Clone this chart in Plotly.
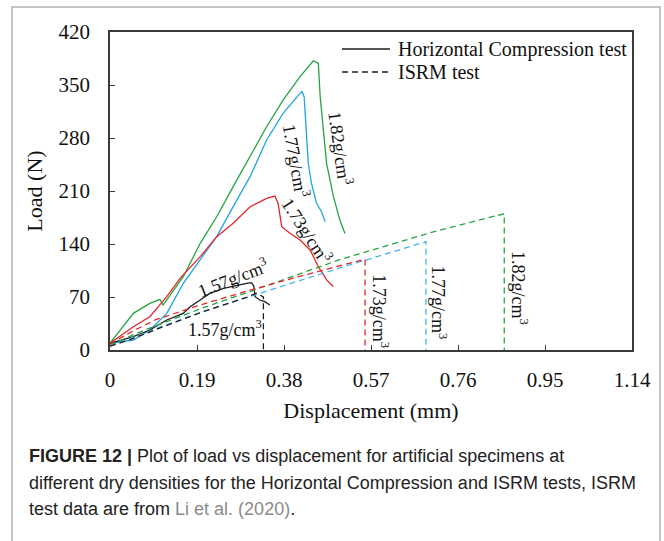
import plotly.graph_objects as go

# ---- Horizontal Compression test curves (displacement mm, load N) ----
hc182_x = [0, 0.051, 0.087, 0.109, 0.116, 0.160, 0.197, 0.233, 0.269, 0.306, 0.342, 0.378, 0.415, 0.444, 0.455, 0.459, 0.473, 0.488, 0.502, 0.513]
hc182_y = [8.8, 48.4, 61.6, 66.9, 59.4, 96.8, 140.9, 176, 215.7, 255, 294.9, 330, 361, 382, 378.6, 334.6, 246.6, 202.5, 171.7, 154]

hc177_x = [0, 0.051, 0.087, 0.124, 0.160, 0.197, 0.233, 0.269, 0.306, 0.342, 0.378, 0.415, 0.419, 0.424, 0.428, 0.433, 0.440, 0.451, 0.462, 0.470]
hc177_y = [8.8, 13.2, 26.4, 48.4, 88, 118.9, 149.7, 189.3, 228.9, 277.4, 312.6, 339, 341.2, 334.6, 290.6, 246.6, 220.2, 193.8, 182.7, 169.5]

hc173_x = [0, 0.051, 0.087, 0.124, 0.153, 0.197, 0.233, 0.269, 0.306, 0.342, 0.360, 0.367, 0.375, 0.393, 0.415, 0.437, 0.455, 0.473, 0.488]
hc173_y = [8.8, 30.8, 44, 70.4, 94.6, 123.3, 149.7, 167.3, 189.3, 200.3, 203.4, 193.8, 162.9, 154.1, 145.3, 132.1, 110, 92.5, 83.6]

hc157_x = [0, 0.051, 0.087, 0.124, 0.160, 0.175, 0.197, 0.218, 0.248, 0.277, 0.298, 0.309, 0.314, 0.317, 0.327, 0.338, 0.349]
hc157_y = [8.8, 17.6, 26.4, 39.6, 48.4, 57.2, 66, 74.8, 81.4, 85.8, 88, 88.9, 84.5, 70.4, 66, 63.8, 59.4]

# ---- ISRM test curves ----
isrm182_x = [0, 0.05, 0.1, 0.2, 0.3, 0.4, 0.5, 0.6, 0.7, 0.861, 0.861]
isrm182_y = [6, 20, 32, 55, 76, 98, 119, 137, 155, 180, 0]

isrm177_x = [0, 0.05, 0.1, 0.2, 0.3, 0.4, 0.5, 0.6, 0.690, 0.690]
isrm177_y = [5, 17, 28, 50, 70, 89, 108, 126, 143, 0]

isrm173_x = [0, 0.05, 0.1, 0.2, 0.3, 0.4, 0.557, 0.557]
isrm173_y = [8, 25, 40, 60, 78, 95, 120, 0]

isrm157_x = [0, 0.05, 0.1, 0.2, 0.3, 0.32, 0.335, 0.335]
isrm157_y = [5, 15, 27, 50, 70, 75, 70, 0]

x_ticks = [0, 0.19, 0.38, 0.57, 0.76, 0.95, 1.14]
x_tick_text = ["0", "0.19", "0.38", "0.57", "0.76", "0.95", "1.14"]
y_ticks = [0, 70, 140, 210, 280, 350, 420]

# density labels: (text, x, y, angle)
label_text = ["1.82g/cm<sup>3</sup>", "1.77g/cm<sup>3</sup>", "1.73g/cm<sup>3</sup>", "1.57g/cm<sup>3</sup>",
              "1.57g/cm<sup>3</sup>", "1.73g/cm<sup>3</sup>", "1.77g/cm<sup>3</sup>", "1.82g/cm<sup>3</sup>"]
label_x = [0.503, 0.406, 0.430, 0.269, 0.251, 0.590, 0.718, 0.893]
label_y = [266, 250, 158, 96, 29, 51, 63, 82]
label_angle = [82, 80, 57, -21, 0, 90, 90, 90]

legend_names = ["Horizontal Compression test", "ISRM test"]

GREEN = "#25a540"
BLUE = "#1ea5e3"
RED = "#e5262b"
BLACK = "#1e1e1e"
DASH = "6px,4px"
SERIF = "Liberation Serif"

# pixel -> paper helpers for the 664x541 canvas with the plot area at (110..632, 32..350)
L, R, T, B = 110, 632, 32, 350
def px(xp):
    return (xp - L) / (R - L)
def py(yp):
    return (B - yp) / (B - T)

fig = go.Figure()

for xs, ys, c in [(hc182_x, hc182_y, GREEN), (hc177_x, hc177_y, BLUE),
                  (hc173_x, hc173_y, RED), (hc157_x, hc157_y, BLACK)]:
    fig.add_trace(go.Scatter(x=xs, y=ys, mode="lines", showlegend=False,
                             line=dict(color=c, width=1.3)))

for xs, ys, c in [(isrm182_x, isrm182_y, GREEN), (isrm177_x, isrm177_y, "#45b4e6"),
                  (isrm173_x, isrm173_y, RED), (isrm157_x, isrm157_y, BLACK)]:
    fig.add_trace(go.Scatter(x=xs, y=ys, mode="lines", showlegend=False,
                             line=dict(color=c, width=1.3, dash=DASH)))

for t, x, y, a in zip(label_text, label_x, label_y, label_angle):
    fig.add_annotation(x=x, y=y, text=t, textangle=a, showarrow=False,
                       xanchor="center", yanchor="middle",
                       font=dict(family=SERIF, size=18, color="#111"))

# legend: line sample + label for each test type
for i, (name, dash) in enumerate(zip(legend_names, ["solid", DASH])):
    yrow = 49 + 23 * i
    fig.add_shape(type="line", xref="paper", yref="paper",
                  x0=px(342), x1=px(390), y0=py(yrow), y1=py(yrow),
                  line=dict(color=BLACK, width=1.3, dash=dash))
    fig.add_annotation(xref="paper", yref="paper", x=px(396), y=py(yrow), text=name,
                       xanchor="left", yanchor="middle", showarrow=False,
                       font=dict(family=SERIF, size=20, color="#111"))

# caption
cap_font = dict(family="Liberation Sans", size=18, color="#222")
caption_lines = [
    "<b>FIGURE 12 |</b> Plot of load vs displacement for artificial specimens at",
    "different dry densities for the Horizontal Compression and ISRM tests, ISRM",
    "test data are from <span style='color:#8a8a8a'>Li et al. (2020)</span>.",
]
for i, line in enumerate(caption_lines):
    fig.add_annotation(xref="paper", yref="paper", x=px(27), y=py(456 + 26.5 * i),
                       xanchor="left", yanchor="middle", text=line, showarrow=False,
                       font=cap_font, align="left")

# outer frame of the figure panel
fig.add_shape(type="rect", xref="paper", yref="paper",
              x0=px(12), x1=px(660), y0=py(560), y1=py(7),
              line=dict(color="#b3b3b3", width=1.5), fillcolor="rgba(0,0,0,0)", layer="below")

axis_common = dict(showgrid=False, zeroline=False, showline=True, mirror=True,
                   linecolor="#3a3a3a", linewidth=1.5, ticks="inside", ticklen=5,
                   tickcolor="#3a3a3a", tickwidth=1.2,
                   tickfont=dict(family=SERIF, size=21, color="#111"))

fig.update_xaxes(range=[0, 1.14], tickvals=x_ticks, ticktext=x_tick_text,
                 ticklabelstandoff=10,
                 title=dict(text="Displacement (mm)", font=dict(family=SERIF, size=22, color="#111"), standoff=12),
                 **axis_common)
fig.update_yaxes(range=[0, 420], tickvals=y_ticks, ticklabelstandoff=14,
                 title=dict(text="Load (N)", font=dict(family=SERIF, size=22, color="#111"), standoff=10),
                 **axis_common)

fig.update_layout(
    width=664, height=541,
    margin=dict(l=L, r=664 - R, t=T, b=541 - B),
    plot_bgcolor="white", paper_bgcolor="white",
    showlegend=False,
)

fig.write_html("out.html")
